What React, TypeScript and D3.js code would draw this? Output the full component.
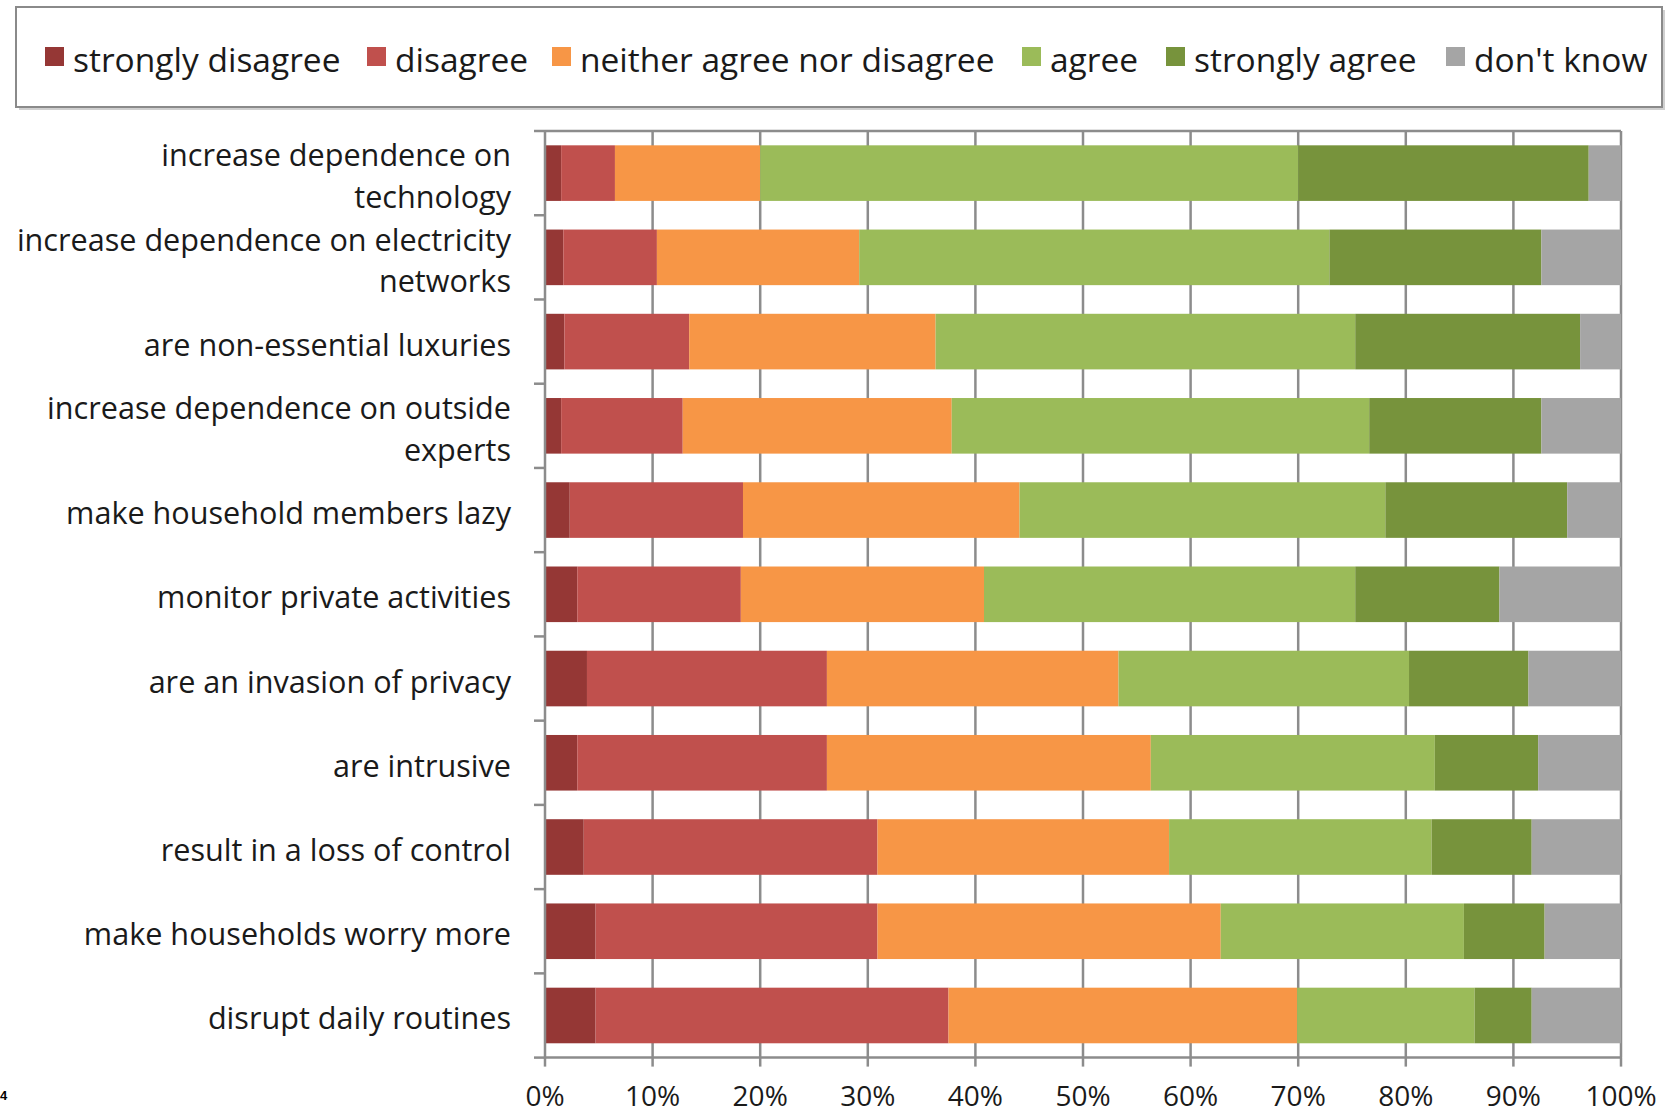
import React from "react";
import * as d3 from "d3";

const categories = [
  "increase dependence on technology",
  "increase dependence on electricity networks",
  "are non-essential luxuries",
  "increase dependence on outside experts",
  "make household members lazy",
  "monitor private activities",
  "are an invasion of privacy",
  "are intrusive",
  "result in a loss of control",
  "make households worry more",
  "disrupt daily routines",
];

const categoryLines = [
  ["increase dependence on", "technology"],
  ["increase dependence on electricity", "networks"],
  ["are non-essential luxuries"],
  ["increase dependence on outside", "experts"],
  ["make household members lazy"],
  ["monitor private activities"],
  ["are an invasion of privacy"],
  ["are intrusive"],
  ["result in a loss of control"],
  ["make households worry more"],
  ["disrupt daily routines"],
];

const seriesNames = [
  "strongly disagree",
  "disagree",
  "neither agree nor disagree",
  "agree",
  "strongly agree",
  "don't know",
];

const seriesColors = ["#953735", "#c0504d", "#f79646", "#9bbb59", "#77933c", "#a5a5a5"];

const stronglyDisagree = [1.5, 1.7, 1.8, 1.5, 2.3, 3.0, 3.9, 3.0, 3.6, 4.7, 4.7];
const disagree = [5.0, 8.7, 11.6, 11.3, 16.1, 15.2, 22.3, 23.2, 27.3, 26.2, 32.8];
const neither = [13.5, 18.8, 22.9, 25.0, 25.7, 22.6, 27.1, 30.1, 27.1, 31.9, 32.4];
const agree = [50.0, 43.7, 39.0, 38.8, 34.0, 34.5, 27.0, 26.4, 24.4, 22.6, 16.5];
const stronglyAgree = [27.0, 19.7, 20.9, 16.0, 16.9, 13.4, 11.1, 9.6, 9.3, 7.5, 5.3];
const dontKnow = [3.0, 7.4, 3.8, 7.4, 5.0, 11.3, 8.6, 7.7, 8.3, 7.1, 8.3];

const xTicks = [0, 10, 20, 30, 40, 50, 60, 70, 80, 90, 100];

const seriesValues = [stronglyDisagree, disagree, neither, agree, stronglyAgree, dontKnow];

const legendX = [45, 367, 552, 1022, 1166, 1446];

export default function App() {
  const W = 1675;
  const H = 1116;
  const font = "'Open Sans', sans-serif";
  const fsLabel = 30.6;
  const fsLegend = 33.5;
  const fsTick = 28;

  const x = d3.scaleLinear().domain([0, 100]).range([545, 1621]);
  const y = d3
    .scaleBand<string>()
    .domain(categories)
    .range([131, 1057.6])
    .paddingInner(0.34)
    .paddingOuter(0.17);

  const rows = categories.map((c, i) => {
    const obj: any = { cat: c };
    seriesNames.forEach((s, j) => (obj[s] = seriesValues[j][i]));
    return obj;
  });
  const stack = d3.stack<any>().keys(seriesNames)(rows);

  const step = y.step();
  const top = 131;
  const bottom = 1057.6;
  const boundaries = d3.range(categories.length + 1).map((k) => top + k * step);

  return (
    <div style={{ position: "absolute", left: 0, top: 0 }}>
      <svg width={W} height={H} style={{ display: "block", background: "#fff" }}>
        {/* legend */}
        <rect x={19} y={10} width={1646} height={100} fill="#d0d0d0" />
        <rect x={16} y={7} width={1646} height={100} fill="#fff" stroke="#8a8a8a" strokeWidth={2} />
        {seriesNames.map((s, i) => (
          <g key={s}>
            <rect x={legendX[i]} y={47} width={19} height={19} fill={seriesColors[i]} />
            <text
              x={legendX[i] + 28}
              y={72}
              fontFamily={font}
              fontSize={fsLegend}
              fill="#1a1a1a"
            >
              {s}
            </text>
          </g>
        ))}

        {/* gridlines */}
        {xTicks.slice(1, -1).map((t) => (
          <line key={t} x1={x(t)} x2={x(t)} y1={top} y2={bottom} stroke="#8c8c8c" strokeWidth={2.5} />
        ))}
        <line x1={x(0)} x2={x(100)} y1={top} y2={top} stroke="#8c8c8c" strokeWidth={2.5} />
        <line x1={x(100)} x2={x(100)} y1={top} y2={bottom} stroke="#8c8c8c" strokeWidth={2.5} />

        {/* bars */}
        {stack.map((layer, j) => (
          <g key={layer.key} fill={seriesColors[j]}>
            {layer.map((d, i) => (
              <rect
                key={i}
                x={x(d[0])}
                width={Math.max(0, x(d[1]) - x(d[0]))}
                y={y(categories[i])}
                height={y.bandwidth()}
              />
            ))}
          </g>
        ))}

        {/* axes */}
        <line x1={x(0)} x2={x(0)} y1={top} y2={bottom + 1} stroke="#8c8c8c" strokeWidth={2.5} />
        <line x1={x(0) - 1} x2={x(100) + 1} y1={bottom} y2={bottom} stroke="#8c8c8c" strokeWidth={2.5} />
        {boundaries.map((b, k) => (
          <line key={k} x1={x(0) - 11} x2={x(0)} y1={b} y2={b} stroke="#8c8c8c" strokeWidth={2.5} />
        ))}
        {xTicks.map((t) => (
          <line key={t} x1={x(t)} x2={x(t)} y1={bottom} y2={bottom + 9} stroke="#8c8c8c" strokeWidth={2.5} />
        ))}
        {xTicks.map((t) => (
          <text
            key={t}
            x={x(t)}
            y={1106}
            textAnchor="middle"
            fontFamily={font}
            fontSize={fsTick}
            fill="#1a1a1a"
          >
            {t + "%"}
          </text>
        ))}

        {/* category labels */}
        {categories.map((c, i) => {
          const cy = (y(c) as number) + y.bandwidth() / 2;
          const lines = categoryLines[i];
          const lh = 41.7;
          const startY = cy - ((lines.length - 1) * lh) / 2;
          return (
            <text
              key={c}
              textAnchor="end"
              fontFamily={font}
              fontSize={fsLabel}
              fill="#1a1a1a"
            >
              {lines.map((ln, k) => (
                <tspan key={k} x={511} y={startY + k * lh + 14}>
                  {ln}
                </tspan>
              ))}
            </text>
          );
        })}

        <text x={0} y={1100} fontFamily="'Liberation Sans', Arial, sans-serif" fontSize={13} fontWeight="bold" fill="#000">
          4
        </text>
      </svg>
    </div>
  );
}
